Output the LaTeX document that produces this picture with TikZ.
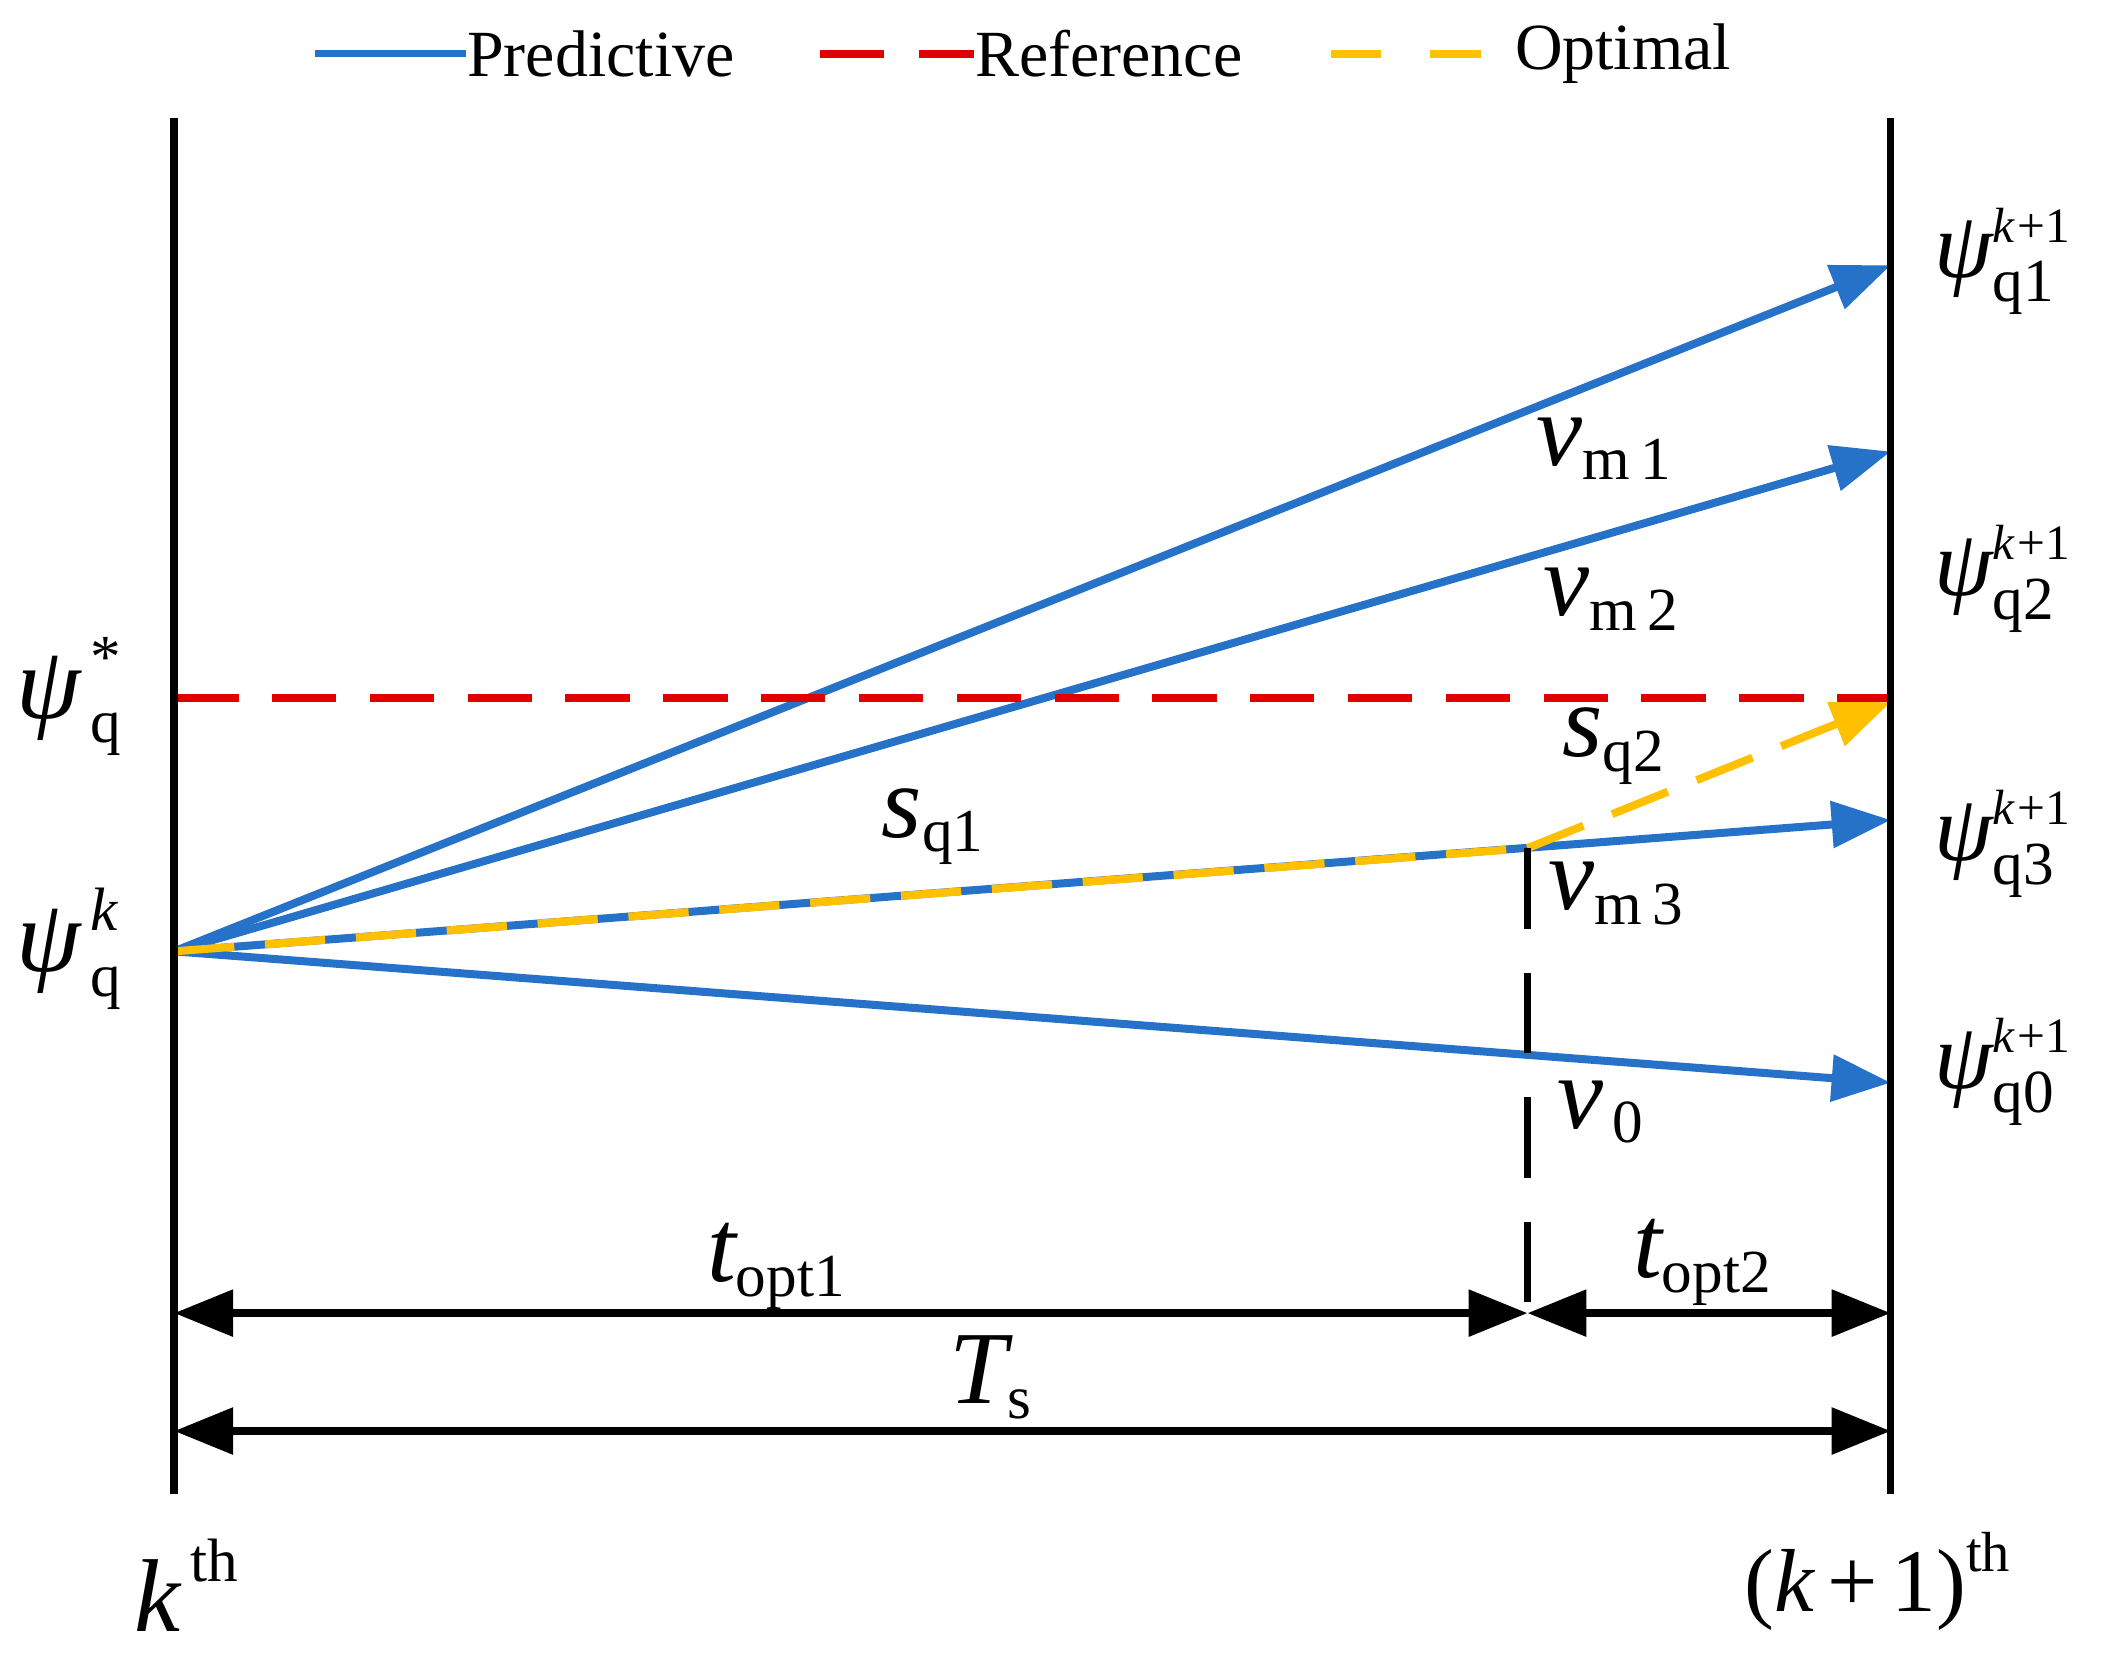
\documentclass[tikz,border=0pt]{standalone}
\usepackage{amsmath}
\usepackage{fontspec}
\setmainfont{Liberation Serif}
\DeclareMathSizes{22}{22}{13}{10}
\DeclareMathSizes{20}{20}{13}{10}
\DeclareMathSizes{19}{19}{12}{9}
\usetikzlibrary{arrows.meta,positioning}
\definecolor{predblue}{RGB}{38,114,200}
\definecolor{refred}{RGB}{224,0,0}
\definecolor{optyellow}{RGB}{255,192,0}
\newcommand{\kplus}{\text{\fontsize{10.5}{12}\selectfont\textit{k}\kern0.5pt+1}}

\begin{document}
\begin{tikzpicture}[x=0.1mm, y=-0.1mm,
    bigtip/.style={-{Triangle[length=4.4mm, width=3.4mm]}},
    dimtip/.style={{Triangle[length=4.4mm, width=3.4mm]}-{Triangle[length=4.4mm, width=3.4mm]}},
    predline/.style={draw=predblue, line width=1.7pt},
    refline/.style={draw=refred, line width=1.7pt, dash pattern=on 4.8mm off 2.5mm},
    optline/.style={draw=optyellow, line width=1.7pt, dash pattern=on 4.5mm off 2.3mm},
    axisline/.style={draw=black, line width=1.6pt},
    lbl/.style={inner sep=0pt, font=\fontsize{22}{26}\selectfont},
    psilbl/.style={inner sep=0pt, anchor=west, font=\fontsize{20}{24}\selectfont},
    legtext/.style={inner sep=0pt, anchor=west, font=\fontsize{14}{16}\selectfont}]
    \useasboundingbox (0,0) rectangle (1568,1238);

    % time axes
    \coordinate (ktop) at (130,88);
    \coordinate (kbot) at (130,1115);
    \coordinate (kktop) at (1411,88);
    \coordinate (kkbot) at (1411,1115);

    % flux points
    \coordinate (start) at (130,710);
    \coordinate (end1) at (1411,198);
    \coordinate (end2) at (1411,337);
    \coordinate (end3) at (1411,612);
    \coordinate (end0) at (1411,808);
    \coordinate (endopt) at (1411,524);
    \coordinate (switch) at (1140,633);
    \coordinate (swbot) at (1140,980);
    \coordinate (refL) at (130,521);
    \coordinate (refR) at (1411,521);
    \coordinate (toptL) at (130,980);
    \coordinate (toptR) at (1411,980);
    \coordinate (tsL) at (130,1068);
    \coordinate (tsR) at (1411,1068);

    % legend
    \coordinate (legpredA) at (235,40);
    \node (legpred) [legtext] at (348,40) {Predictive};
    \coordinate (legrefA) at (612,40);
    \node (legref) [legtext] at (727,40) {Reference};
    \coordinate (legoptA) at (993,40);
    \coordinate (legoptB) at (1105,40);
    \node (legopt) [legtext] at (1130,40) {Optimal};
    \draw [predline, line width=1.5pt] (legpredA) -- (legpred.west);
    \draw [refline, dash pattern=on 4.8mm off 2.6mm] (legrefA) -- (legref.west);
    \draw [optline, dash pattern=on 3.8mm off 3.6mm] (legoptA) -- (legoptB);

    % predictive vectors
    \draw [predline, bigtip] (start) -- (end1);
    \draw [predline, bigtip] (start) -- (end2);
    \draw [predline, bigtip] (start) -- (end3);
    \draw [predline, bigtip] (start) -- (end0);

    % optimal path and reference
    \draw [optline] (start) -- (switch);
    \draw [optline, bigtip] (switch) -- (endopt);
    \draw [refline] (refL) -- (refR);

    \draw [axisline] (ktop) -- (kbot);
    \draw [axisline] (kktop) -- (kkbot);
    \draw [axisline, dash pattern=on 6mm off 3.3mm] (switch) -- (swbot);
    \draw [axisline, dimtip] (toptL) -- (swbot);
    \draw [axisline, dimtip] (swbot) -- (toptR);
    \draw [axisline, dimtip] (tsL) -- (tsR);

    % labels
    \node (psi1) [psilbl] at (1443,195) {$\textit{ψ}^{\kplus}_{\text{q1}}$};
    \node (psi2) [psilbl] at (1443,432) {$\textit{ψ}^{\kplus}_{\text{q2}}$};
    \node (psi3) [psilbl] at (1443,630) {$\textit{ψ}^{\kplus}_{\text{q3}}$};
    \node (psi0) [psilbl] at (1443,800) {$\textit{ψ}^{\kplus}_{\text{q0}}$};
    \node (psiref) [lbl] at (52,520) {$\textit{ψ}^{\,\text{*}}_{\,\text{q}}$};
    \node (psik) [lbl] at (52,708) {$\textit{ψ}^{\,\textit{k}}_{\,\text{q}}$};
    \node (vm1) [lbl] at (1198,335) {$\textit{v}_{\text{m\,1}}$};
    \node (vm2) [lbl] at (1203,447) {$\textit{v}_{\text{m\,2}}$};
    \node (vm3) [lbl] at (1207,667) {$\textit{v}_{\text{m\,3}}$};
    \node (v0) [lbl] at (1195,830) {$\textit{v}_{\,\text{0}}$};
    \node (sq1) [lbl] at (697,617) {$\textit{s}_{\text{q1}}$};
    \node (sq2) [lbl] at (1205,557) {$\textit{s}_{\text{q2}}$};
    \node (topt1) [lbl] at (580,945) {$\textit{t}_{\text{opt1}}$};
    \node (topt2) [lbl] at (1271,942) {$\textit{t}_{\text{opt2}}$};
    \node (ts) [lbl] at (740,1028) {$\textit{T}_{\text{s}}$};
    \node (kth) [lbl] at (140,1183) {$\textit{k}^{\,\text{th}}$};
    \node (kkth) [lbl, font=\fontsize{19}{23}\selectfont] at (1402,1180) {$\text{(}\textit{k}\,\text{+}\,\text{1)}^{\text{th}}$};
\end{tikzpicture}
\end{document}
